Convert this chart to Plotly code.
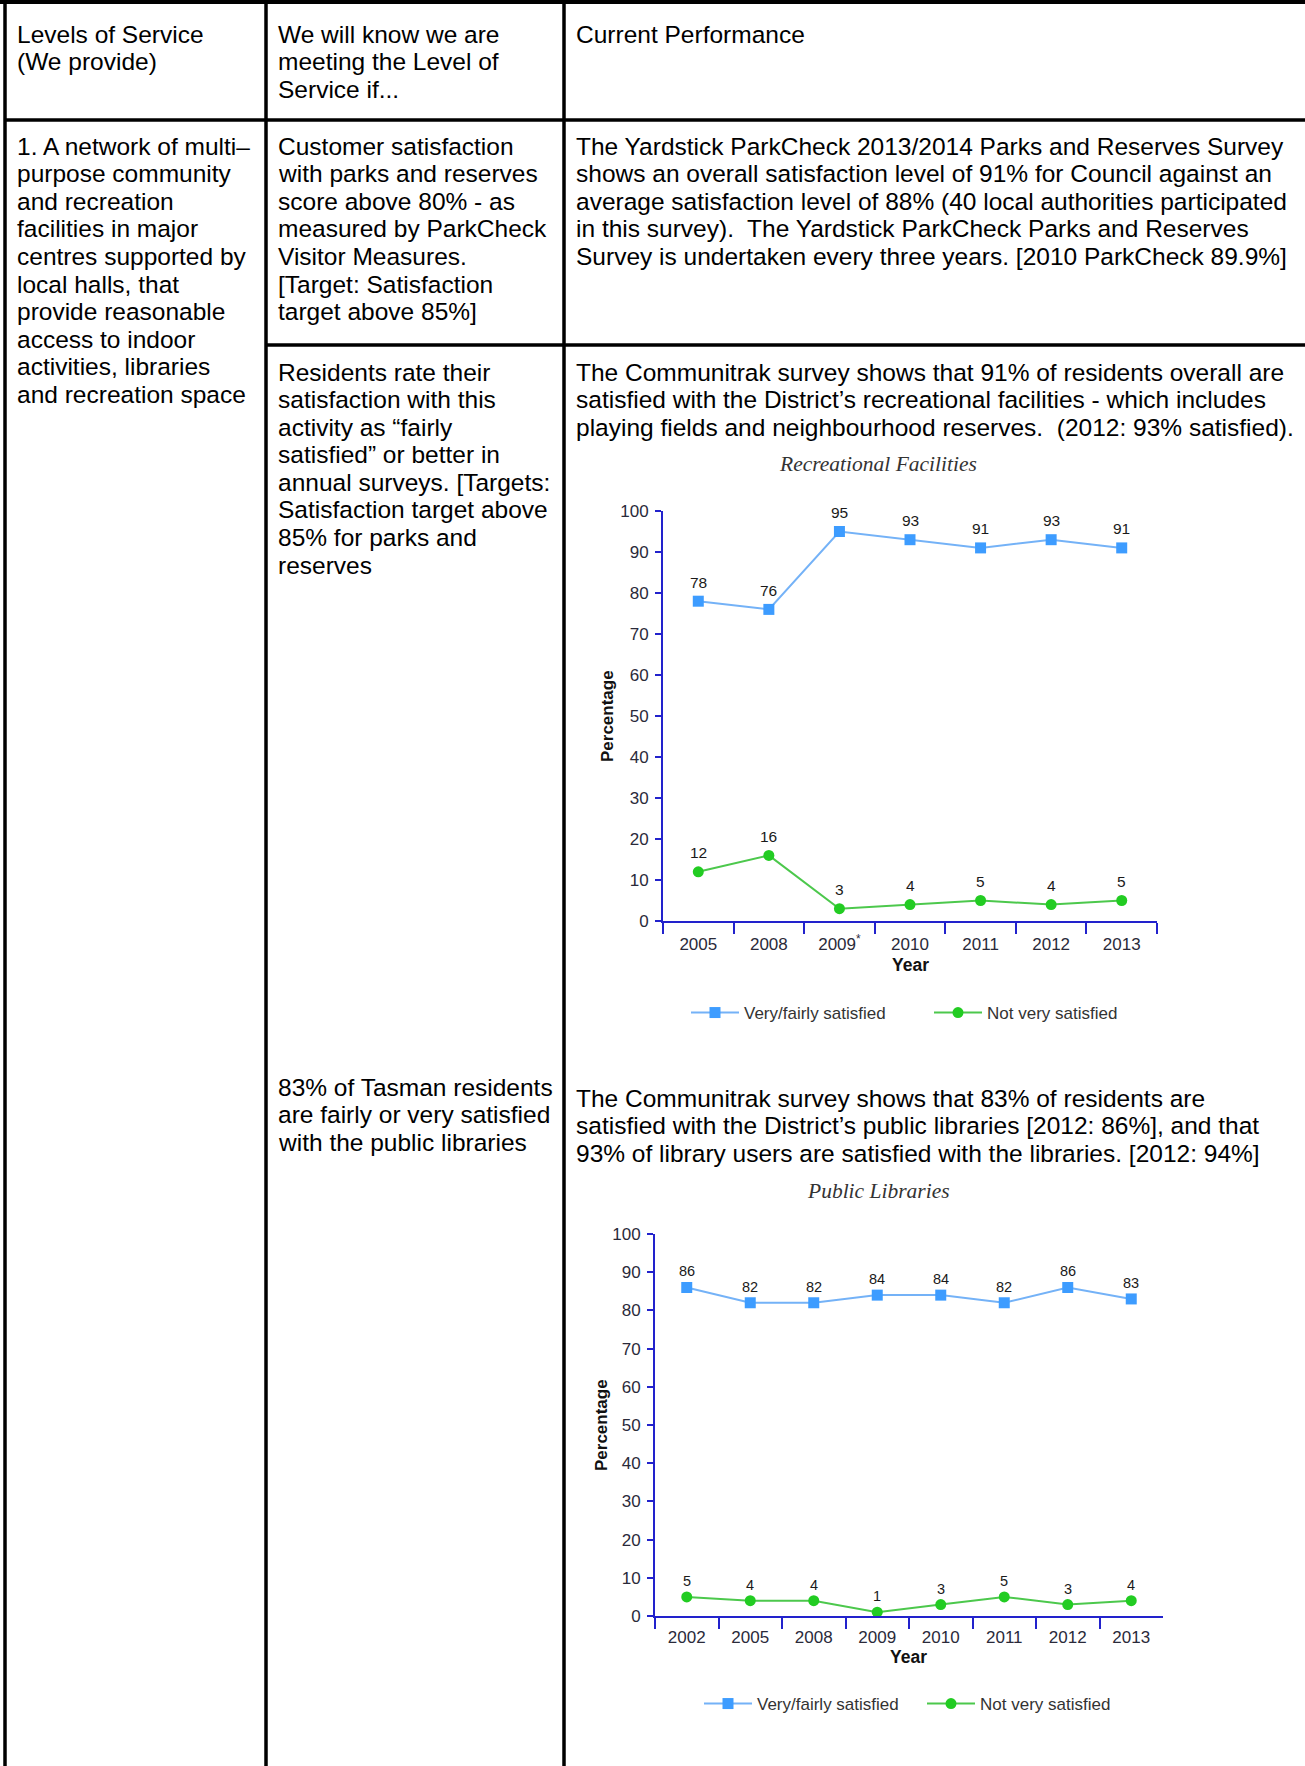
import plotly.graph_objects as go

W, H = 1305, 1766

# ---- survey data -------------------------------------------------------
rec_years = ["2005", "2008", "2009<sup>*</sup>", "2010", "2011", "2012", "2013"]
rec_satisfied = [78, 76, 95, 93, 91, 93, 91]
rec_not_satisfied = [12, 16, 3, 4, 5, 4, 5]

lib_years = ["2002", "2005", "2008", "2009", "2010", "2011", "2012", "2013"]
lib_satisfied = [86, 82, 82, 84, 84, 82, 86, 83]
lib_not_satisfied = [5, 4, 4, 1, 3, 5, 3, 4]

series_names = ["Very/fairly satisfied", "Not very satisfied"]

# ---- table text ----------------------------------------------------------
header_col1 = ["Levels of Service", "(We provide)"]
header_col2 = ["We will know we are", "meeting the Level of", "Service if..."]
header_col3 = ["Current Performance"]

row1_col1 = ["1. A network of multi\u2013", "purpose community", "and recreation",
             "facilities in major", "centres supported by", "local halls, that",
             "provide reasonable", "access to indoor", "activities, libraries",
             "and recreation space"]
row1_col2 = ["Customer satisfaction", "with parks and reserves", "score above 80% - as",
             "measured by ParkCheck", "Visitor Measures.", "[Target: Satisfaction",
             "target above 85%]"]
row1_col3 = ["The Yardstick ParkCheck 2013/2014 Parks and Reserves Survey",
             "shows an overall satisfaction level of 91% for Council against an",
             "average satisfaction level of 88% (40 local authorities participated",
             "in this survey).  The Yardstick ParkCheck Parks and Reserves",
             "Survey is undertaken every three years. [2010 ParkCheck 89.9%]"]
row2_col2 = ["Residents rate their", "satisfaction with this", "activity as \u201cfairly",
             "satisfied\u201d or better in", "annual surveys. [Targets:",
             "Satisfaction target above", "85% for parks and", "reserves"]
row2_col3 = ["The Communitrak survey shows that 91% of residents overall are",
             "satisfied with the District\u2019s recreational facilities - which includes",
             "playing fields and neighbourhood reserves.  (2012: 93% satisfied)."]
row3_col2 = ["83% of Tasman residents", "are fairly or very satisfied",
             "with the public libraries"]
row3_col3 = ["The Communitrak survey shows that 83% of residents are",
             "satisfied with the District\u2019s public libraries [2012: 86%], and that",
             "93% of library users are satisfied with the libraries. [2012: 94%]"]

chart_titles = ["Recreational Facilities", "Public Libraries"]

# ---- styling -------------------------------------------------------------
BODY_FONT = "Liberation Sans, Arial, sans-serif"
CHART_FONT = "Liberation Sans, Arial, sans-serif"
AXIS_BLUE = "#2222cc"
BLUE_LINE, BLUE_MARK = "#74b2f7", "#3d9cff"
GREEN_LINE, GREEN_MARK = "#4cc84c", "#22cc22"
LINE_GAP = 27.6


def fx(px):
    return px / W


def fy(py):
    return 1 - py / H


annotations = []
shapes = []


def text_block(lines, x_px, y_first_px, size=24.5):
    for i, line in enumerate(lines):
        annotations.append(dict(
            text=line, xref="paper", yref="paper",
            x=fx(x_px), y=fy(y_first_px + i * LINE_GAP),
            xanchor="left", yanchor="middle", showarrow=False,
            font=dict(family=BODY_FONT, size=size, color="#000")))


text_block(header_col1, 15, 34)
text_block(header_col2, 276, 34)
text_block(header_col3, 574, 34)
text_block(row1_col1, 15, 146)
text_block(row1_col2, 276, 146)
text_block(row1_col3, 574, 146)
text_block(row2_col2, 276, 372)
text_block(row2_col3, 574, 372)
text_block(row3_col2, 276, 1087)
text_block(row3_col3, 574, 1098)


# table rules
def rule(x0, y0, x1, y1, w=3.5):
    shapes.append(dict(type="line", xref="paper", yref="paper",
                       x0=fx(x0), y0=fy(y0), x1=fx(x1), y1=fy(y1),
                       line=dict(color="#000", width=w)))


rule(0, 2, W, 2, 4)
rule(5, 0, 5, H)
rule(266, 0, 266, H)
rule(564, 0, 564, H)
rule(5, 120, W, 120)
rule(266, 345, W, 345)

# ---- charts --------------------------------------------------------------
fig = go.Figure()

charts = [
    dict(years=rec_years, sat=rec_satisfied, notsat=rec_not_satisfied,
         xa="x", ya="y", x0=663, x1=1157, ytop=511, ybot=921,
         legend="legend", shift=19, label_size=15.5,
         title_y=464, ytitle_x=608, year_y=965),
    dict(years=lib_years, sat=lib_satisfied, notsat=lib_not_satisfied,
         xa="x2", ya="y2", x0=655, x1=1163, ytop=1234, ybot=1616,
         legend="legend2", shift=16, label_size=14.5,
         title_y=1191, ytitle_x=601, year_y=1657),
]

for ci, c in enumerate(charts):
    fig.add_trace(go.Scatter(
        x=c["years"], y=c["sat"], name=series_names[0], mode="lines+markers",
        line=dict(color=BLUE_LINE, width=2),
        marker=dict(symbol="square", size=11, color=BLUE_MARK),
        xaxis=c["xa"], yaxis=c["ya"], legend=c["legend"], hoverinfo="x+y"))
    fig.add_trace(go.Scatter(
        x=c["years"], y=c["notsat"], name=series_names[1], mode="lines+markers",
        line=dict(color=GREEN_LINE, width=2),
        marker=dict(symbol="circle", size=11, color=GREEN_MARK),
        xaxis=c["xa"], yaxis=c["ya"], legend=c["legend"], hoverinfo="x+y"))

    # value labels above each point (x given as category position)
    for series in (c["sat"], c["notsat"]):
        for i, v in enumerate(series):
            annotations.append(dict(
                text=str(v), x=i, y=v, xref=c["xa"], yref=c["ya"],
                yshift=c["shift"], showarrow=False,
                font=dict(family=CHART_FONT, size=c["label_size"], color="#1a1a1a")))

    cx = (c["x0"] + c["x1"]) / 2
    annotations.append(dict(
        text="<i>%s</i>" % chart_titles[ci], xref="paper", yref="paper",
        x=fx(878), y=fy(c["title_y"]), xanchor="center", yanchor="middle",
        showarrow=False,
        font=dict(family="Liberation Serif, Times New Roman, serif",
                  size=21.5, color="#333")))
    annotations.append(dict(
        text="<b>Percentage</b>", xref="paper", yref="paper", textangle=-90,
        x=fx(c["ytitle_x"]), y=fy((c["ytop"] + c["ybot"]) / 2),
        xanchor="center", yanchor="middle", showarrow=False,
        font=dict(family=CHART_FONT, size=17, color="#111")))
    annotations.append(dict(
        text="<b>Year</b>", xref="paper", yref="paper",
        x=fx(cx), y=fy(c["year_y"]), xanchor="center", yanchor="middle",
        showarrow=False, font=dict(family=CHART_FONT, size=17.5, color="#111")))

axis_common = dict(showline=True, linecolor=AXIS_BLUE, linewidth=2,
                   ticks="outside", tickcolor=AXIS_BLUE, tickwidth=2,
                   showgrid=False, zeroline=False, automargin=False,
                   tickfont=dict(family=CHART_FONT, size=17, color="#2a2a3a"))

layout_axes = {}
for ci, c in enumerate(charts):
    suffix = "" if ci == 0 else "2"
    layout_axes["xaxis" + suffix] = dict(
        axis_common, type="category", domain=[fx(c["x0"]), fx(c["x1"])],
        anchor="y" + suffix, range=[-0.5, len(c["years"]) - 0.5],
        tickson="boundaries", ticklen=11,
        ticklabelstandoff=7 if ci == 0 else 5)
    layout_axes["yaxis" + suffix] = dict(
        axis_common, domain=[fy(c["ybot"]), fy(c["ytop"])],
        anchor="x" + suffix, range=[0, 100], dtick=10, ticklen=6,
        ticklabelstandoff=3)

legend_common = dict(orientation="h", xanchor="left", yanchor="middle",
                     bgcolor="rgba(0,0,0,0)", borderwidth=0,
                     entrywidthmode="pixels", itemwidth=48,
                     font=dict(family=CHART_FONT, size=17, color="#333"))

fig.update_layout(
    width=W, height=H,
    margin=dict(l=0, r=0, t=0, b=0, pad=0, autoexpand=False),
    paper_bgcolor="white", plot_bgcolor="white",
    showlegend=True,
    legend=dict(legend_common, x=fx(686), y=fy(1013), entrywidth=180),
    legend2=dict(legend_common, x=fx(699), y=fy(1704), entrywidth=160),
    annotations=annotations, shapes=shapes,
    **layout_axes)

fig.write_html("out.html")
